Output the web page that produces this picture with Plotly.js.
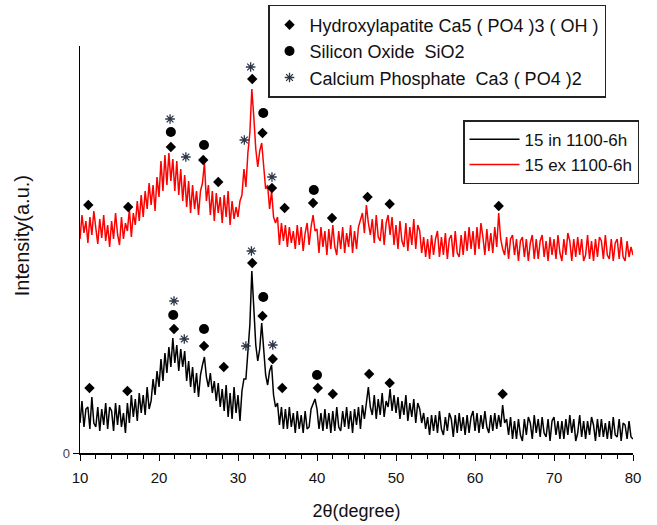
<!DOCTYPE html>
<html>
<head>
<meta charset="utf-8">
<script src="https://cdn.plot.ly/plotly-3.0.1.min.js"></script>
<style>html,body{margin:0;padding:0;background:#fff;}#chart{width:657px;height:525px;}</style>
</head>
<body>
<div id="chart"></div>
<script>
// 2θ grid: 10° to 80° in 0.25° steps (281 points)
const twoThetaStart = 10, twoThetaStep = 0.25;

// Intensity (a.u.), sample "15 ex 1100-6h" (red, upper)
const exIntensity = [
214,238,220,232, 210,236,218,242, 225,209,234,215, 238,212,228,206, 232,214,240,219,
208,236,214,230, 222,244,216,240, 228,252,232,258, 236,262,244,270, 248,268,242,276,
256,292,262,298, 268,300,272,294, 262,292,258,284, 252,278,246,272, 240,268,244,262,
238,262,270,290, 252,268,238,262, 232,260,240,256, 230,258,236,262, 228,252,234,246,
236,252,258,284, 266,300,320,364, 336,304,286,302, 310,282,264,268, 244,262,236,230,
236,208,230,212, 228,206,226,210, 222,204,228,208, 226,202,220,230, 208,226,238,222,
224,200,226,206, 222,198,224,204, 228,206,198,222, 204,226,200,220, 206,228,200,222,
204,226,232,240, 220,248,230,218, 234,210,238,216, 212,234,208,230, 238,218,236,208,
228,204,232,212, 206,230,202,226, 208,234,204,228, 222,200,216,196, 214,194,218,198,
214,222,196,216, 198,220,194,214, 218,196,222,200, 196,218,198,222, 202,226,204,222,
198,226,204,230, 216,198,224,202, 220,200,226,206, 240,214,204,198, 216,194,214,218,
198,214,192,212, 216,196,214,192, 210,218,194,214, 194,212,218,196, 212,192,216,198,
214,194,218,200, 192,214,198,220, 212,192,214,196, 216,198,214,192, 198,218,194,212,
192,214,196,216, 212,194,218,198, 194,214,192,210, 214,194,216,196, 192,212,196,206,
198];

// Intensity (a.u.), sample "15 in 1100-6h" (black, lower)
const inIntensity = [
30,52,26,44, 46,24,56,30, 26,46,22,44, 28,50,24,46, 42,22,50,28,
48,26,40,20, 50,30,58,36, 54,32,60,40, 58,38,66,44, 52,74,58,82,
66,94,72,100, 80,106,86,115, 90,108,82,104, 86,102,72,92, 66,86,60,80,
56,78,88,96, 76,66,80,60, 72,52,70,46, 64,42,68,36, 60,34,66,40,
58,32,62,74, 74,106,128,182, 146,108,92,104, 130,100,78,68, 82,88,58,46,
50,28,46,24, 44,24,46,26, 40,20,42,24, 38,20,42,24, 26,44,50,54,
44,24,40,22, 44,24,40,20, 42,22,46,26, 22,42,26,46, 24,42,20,44,
28,46,24,48, 34,52,66,46, 38,58,34,54, 38,60,36,52, 46,64,42,58,
40,56,34,52, 38,58,32,50, 36,54,30,50, 44,30,40,24, 36,18,38,22,
38,20,42,24, 18,36,22,40, 34,16,38,20, 40,22,36,18, 38,20,36,42,
22,40,20,38, 24,42,26,20, 38,22,40,24, 38,26,48,30, 34,18,36,14,
32,14,34,18, 12,34,18,36, 30,14,38,20, 34,16,36,20, 16,34,12,32,
36,18,32,14, 32,14,34,18, 38,20,34,12, 20,38,16,32, 14,32,18,36,
28,12,34,16, 34,16,30,14, 32,14,36,18, 16,34,12,30, 28,14,32,16,
14];

// Phase markers (2θ, intensity)
const hapX = [11.05,16.1,21.5,25.6,27.5,31.8,33.1,34.3,35.9,39.5,41.9,46.4,49.2,63.0,
              11.2,16.0,21.9,25.7,28.2,31.8,33.1,34.4,35.6,40.1,42.0,46.6,49.2,63.5];
const hapY = [248,246,306,293,271,374,320,265,245,250,235,256,249,247,
              65,62,124,107,86,190,137,94,65,65,59,79,70,59];
const sio2X = [21.5,25.7,33.2,39.6, 21.8,25.7,33.2,40.0];
const sio2Y = [321,308,340,263, 138,124,156,78];
const tcpX = [21.4,23.4,30.8,31.6,34.3, 21.9,23.2,31.0,31.7,34.4];
const tcpY = [334,296,313,386,276, 152,114,107,202,108];

const seriesNames = ['15 in 1100-6h', '15 ex 1100-6h'];
const phaseNames = ['Hydroxylapatite Ca5 ( PO4 )3 ( OH )', 'Silicon Oxide  SiO2', 'Calcium Phosphate  Ca3 ( PO4 )2'];

const twoTheta = inIntensity.map((_, i) => twoThetaStart + i * twoThetaStep);

const FONT = 'Liberation Sans, Arial, sans-serif';

const traces = [
  {x: twoTheta, y: inIntensity, type: 'scatter', mode: 'lines', name: seriesNames[0],
   line: {color: '#000000', width: 1.5}, legend: 'legend'},
  {x: twoTheta, y: exIntensity, type: 'scatter', mode: 'lines', name: seriesNames[1],
   line: {color: '#ff0000', width: 1.5}, legend: 'legend'},
  {x: hapX, y: hapY, type: 'scatter', mode: 'markers', name: phaseNames[0],
   marker: {symbol: 'diamond', size: 8, color: '#000000'}, legend: 'legend2', cliponaxis: false},
  {x: sio2X, y: sio2Y, type: 'scatter', mode: 'markers', name: phaseNames[1],
   marker: {symbol: 'circle', size: 10, color: '#000000'}, legend: 'legend2', cliponaxis: false},
  {x: tcpX, y: tcpY, type: 'scatter', mode: 'markers', name: phaseNames[2],
   marker: {symbol: 'asterisk', size: 8, color: '#2c3447', line: {color: '#2c3447', width: 1.3}},
   legend: 'legend2', cliponaxis: false}
];

const layout = {
  width: 657, height: 525,
  margin: {l: 80, r: 24, t: 46, b: 72, autoexpand: false},
  paper_bgcolor: '#ffffff', plot_bgcolor: '#ffffff',
  font: {family: FONT, color: '#111111'},
  showlegend: true,
  xaxis: {
    range: [10, 80], dtick: 10, tick0: 10,
    ticks: 'outside', ticklen: 6, tickwidth: 1, tickcolor: '#000',
    minor: {dtick: 2, ticks: 'outside', ticklen: 4, tickcolor: '#000'},
    showline: true, linecolor: '#000', linewidth: 1.5,
    showgrid: false, zeroline: false,
    ticklabelstandoff: 4,
    tickfont: {size: 15, family: FONT, color: '#111'},
    title: {text: '2θ(degree)', font: {size: 18, family: FONT, color: '#111'}, standoff: 20}
  },
  yaxis: {
    range: [0, 407],
    tickvals: [0], ticktext: ['0'],
    ticks: 'outside', ticklen: 6, tickcolor: '#000',
    showline: true, linecolor: '#000', linewidth: 1.5,
    showgrid: false, zeroline: false,
    tickfont: {size: 13, family: FONT, color: '#444'}
  },
  annotations: [{
    text: 'Intensity(a.u.)', textangle: -90, showarrow: false,
    xref: 'paper', yref: 'paper', x: -0.105, y: 0.535,
    xanchor: 'center', yanchor: 'middle',
    font: {size: 20, family: FONT, color: '#111'}
  }],
  legend: {
    x: 0.6926, xanchor: 'left', yref: 'container', y: 0.771, yanchor: 'top',
    bordercolor: '#222', borderwidth: 1.5, bgcolor: '#ffffff', itemwidth: 50,
    font: {size: 17, family: FONT, color: '#111'}
  },
  legend2: {
    x: 0.34, xanchor: 'left', yref: 'container', y: 0.9905, yanchor: 'top',
    bordercolor: '#222', borderwidth: 1.5, bgcolor: '#ffffff',
    font: {size: 18, family: FONT, color: '#111'}, itemwidth: 30
  }
};

Plotly.newPlot('chart', traces, layout, {displayModeBar: false, staticPlot: true});
</script>
</body>
</html>
